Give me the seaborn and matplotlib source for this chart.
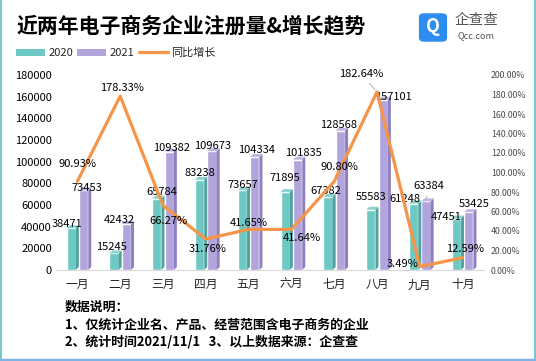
import matplotlib
matplotlib.use('Agg')
import matplotlib.pyplot as plt
import pandas as pd
import seaborn as sns
from matplotlib.patches import Polygon, Patch, FancyBboxPatch
from matplotlib.lines import Line2D

# data
months = ['一月', '二月', '三月', '四月', '五月', '六月', '七月', '八月', '九月', '十月']
reg_2020 = [38471, 15245, 65784, 83238, 73657, 71895, 67382, 55583, 61248, 47451]
reg_2021 = [73453, 42432, 109382, 109673, 104334, 101835, 128568, 157101, 63384, 53425]
growth = [90.93, 178.33, 66.27, 31.76, 41.65, 41.64, 90.80, 182.64, 3.49, 12.59]

# label offsets in pixels (dx, dy)
off_2020 = [(-4, 4), (-2, 6), (5, 7), (0, 7), (0, 5), (0, 14), (-2, 6), (0, 13), (-9, 5), (-10, 2)]
off_2021 = [(3, 2), (-7, 4), (2, 4), (1, 5), (2, 7), (6, 7), (-2, 6), (10, 3), (3, 15), (5, 8)]
off_pct = [(0, 17), (2, 8), (5, -16), (2, -10), (0, 6), (10, -9), (5, 14), (-16, 18), (-17, 3), (2, 9)]

teal = '#6ec8c3'
purple = '#b2a4dc'
teal_side = '#4fa39e'
purple_side = '#8f80bd'
orange = '#f5954a'

sns.set_style('white')
plt.rcParams['font.family'] = ['Noto Sans CJK SC', 'DejaVu Sans']

df = pd.DataFrame({
    'month': months * 2,
    'value': reg_2020 + reg_2021,
    'year': ['2020'] * len(months) + ['2021'] * len(months),
})

fig = plt.figure(figsize=(5.36, 3.61), dpi=100)
ax = fig.add_axes([56 / 536, 1 - 270 / 361, 428 / 536, 195 / 361])

sns.barplot(data=df, x='month', y='value', hue='year', palette=[teal, purple],
            width=0.58, gap=0.25, ax=ax, legend=False, saturation=1, zorder=2)

# fake 3d sides/tops
dx = 0.07
dy = 2770
for cont, side in zip(ax.containers, [teal_side, purple_side]):
    for p in cont.patches:
        x0 = p.get_x()
        x1 = x0 + p.get_width()
        h = p.get_height()
        ax.add_patch(Polygon([(x1, 0), (x1 + dx, dy), (x1 + dx, h + dy), (x1, h)],
                             closed=True, color=side, lw=0, zorder=2))
        ax.add_patch(Polygon([(x0, h), (x1, h), (x1 + dx, h + dy), (x0 + dx, h + dy)],
                             closed=True, color=p.get_facecolor(), lw=0, alpha=0.8, zorder=2))

ax.set_ylim(0, 180000)
ax.set_xlim(-0.5, len(months) - 0.5)
ax.set_yticks(range(0, 180001, 20000))
ax.tick_params(axis='y', labelsize=8, pad=3, length=0, colors='black')
ax.tick_params(axis='x', labelsize=8.5, pad=6, length=0, colors='#222222')
ax.set_xlabel('')
ax.set_ylabel('')
for s in ['top', 'right', 'left']:
    ax.spines[s].set_visible(False)
ax.spines['bottom'].set_color('#d9d9d9')

# value labels
leader_2021 = [False] * 8 + [True, False]
for cont, vals, offs, leads in zip(ax.containers, [reg_2020, reg_2021], [off_2020, off_2021],
                                   [[False] * 10, leader_2021]):
    for p, v, (ox, oy), lead in zip(cont.patches, vals, offs, leads):
        xc = p.get_x() + p.get_width() / 2
        arrow = dict(arrowstyle='-', color='#a6a6a6', lw=0.6, shrinkA=1, shrinkB=1) if lead else None
        ax.annotate(str(v), (xc, v), xytext=(ox, oy), textcoords='offset pixels',
                    ha='center', va='center', fontsize=8, color='black', zorder=6,
                    annotation_clip=False, arrowprops=arrow)

# growth line
ax2 = ax.twinx()
sns.lineplot(x=list(range(len(months))), y=growth, ax=ax2, color=orange, lw=2.3, zorder=5)
ax2.set_ylim(0, 200)
ax2.set_yticks(range(0, 201, 20))
ax2.set_yticklabels([f'{t:.2f}%' for t in range(0, 201, 20)])
ax2.tick_params(axis='y', labelsize=6.3, pad=5, length=0, colors='#4a4a4a')
for s in ['top', 'right', 'left', 'bottom']:
    ax2.spines[s].set_visible(False)

leader_pct = [False] * 7 + [True, False, False]
for i, (g, (ox, oy), lead) in enumerate(zip(growth, off_pct, leader_pct)):
    arrow = dict(arrowstyle='-', color='#a6a6a6', lw=0.6, shrinkA=1, shrinkB=2) if lead else None
    ax2.annotate(f'{g:.2f}%', (i, g), xytext=(ox, oy), textcoords='offset pixels',
                 ha='center', va='center', fontsize=8, color='black', zorder=6,
                 annotation_clip=False, arrowprops=arrow)

# title
fig.text(17 / 536, 1 - 26 / 361, '近两年电子商务企业注册量&增长趋势', fontsize=15,
         fontweight='bold', va='center', ha='left', color='black')

# legend
handles = [Patch(facecolor=teal, edgecolor='none'), Patch(facecolor=purple, edgecolor='none'),
           Line2D([0], [0], color=orange, lw=2.3)]
fig.legend(handles, ['2020', '2021', '同比增长'], loc='center left',
           bbox_to_anchor=(16 / 536, 1 - 53 / 361), ncol=3, frameon=False, fontsize=8,
           handlelength=2.6, handleheight=0.6, handletextpad=0.3, columnspacing=0.4,
           borderaxespad=0, borderpad=0)

# logo
fig.patches.append(FancyBboxPatch((420 / 536, 1 - 41 / 361), 26 / 536, 27 / 361,
                                  boxstyle='round,pad=0.002,rounding_size=0.01',
                                  transform=fig.transFigure, facecolor='#2d8cf0',
                                  edgecolor='none'))
fig.text(433 / 536, 1 - 27 / 361, 'Q', color='white', fontsize=13, fontweight='bold',
         ha='center', va='center')
fig.text(476 / 536, 1 - 20 / 361, '企查查', color='#555555', fontsize=10.5,
         ha='center', va='center')
fig.text(476 / 536, 1 - 36 / 361, 'Qcc.com', color='#555555', fontsize=6.5,
         ha='center', va='center')

# footnote
foot = ['数据说明：', '1、仅统计企业名、产品、经营范围含电子商务的企业',
        '2、统计时间2021/11/1   3、以上数据来源：企查查']
for k, line in enumerate(foot):
    fig.text(65 / 536, 1 - (307 + 17.5 * k) / 361, line, fontsize=9.3, fontweight='bold',
             ha='left', va='center', color='black')

# frame
fig.add_artist(Line2D([0.5 / 536, 0.5 / 536], [0, 1], color='#79c9cc', lw=1.5, transform=fig.transFigure))
fig.add_artist(Line2D([534.5 / 536, 534.5 / 536], [0, 1], color='#79c9cc', lw=1.5, transform=fig.transFigure))
fig.add_artist(Line2D([0, 1], [1.2 / 361, 1.2 / 361], color='#7fb3e6', lw=2.5, transform=fig.transFigure))

fig.savefig('out.png', dpi=100)
